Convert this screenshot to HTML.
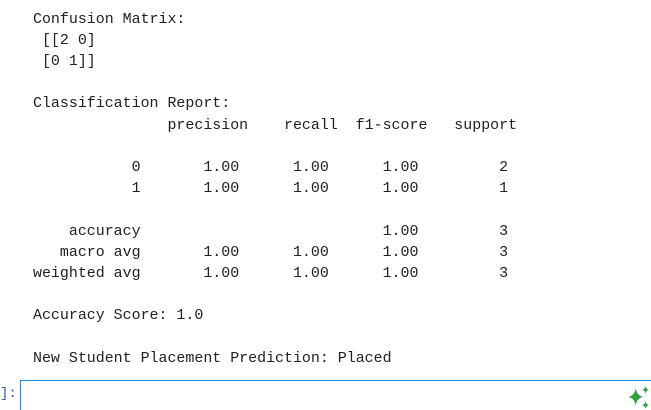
<!DOCTYPE html>
<html><head><meta charset="utf-8"><style>
html,body{margin:0;padding:0;width:651px;height:410px;background:#fff;overflow:hidden;position:relative}
pre{position:absolute;left:33px;top:9.5px;margin:0;font-family:"Liberation Mono",monospace;font-size:14.95px;line-height:21.2px;color:#212121}
#prompt{position:absolute;left:0;top:386px;font-family:"Liberation Mono",monospace;font-size:14px;color:#2f5fa8}
#cell{position:absolute;left:20px;top:380px;width:640px;height:40px;border:1px solid #1e88e5;box-sizing:border-box}
#spark{position:absolute;left:627px;top:386px}
</style></head><body>
<pre>Confusion Matrix:
 [[2 0]
 [0 1]]

Classification Report:
               precision    recall  f1-score   support

           0       1.00      1.00      1.00         2
           1       1.00      1.00      1.00         1

    accuracy                           1.00         3
   macro avg       1.00      1.00      1.00         3
weighted avg       1.00      1.00      1.00         3

Accuracy Score: 1.0

New Student Placement Prediction: Placed</pre>
<div id="prompt">]:</div>
<div id="cell"></div>
<svg id="spark" width="24" height="24" viewBox="0 0 22 22">
<path d="M8 2 Q9 9 15 10 Q9 11 8 18 Q7 11 1 10 Q7 9 8 2Z" fill="#2e9e3e"/>
<path d="M17 0 Q17.5 3 20 3.5 Q17.5 4 17 7 Q16.5 4 14 3.5 Q16.5 3 17 0Z" fill="#2e9e3e"/>
<path d="M17 14 Q17.5 17 20 17.5 Q17.5 18 17 21 Q16.5 18 14 17.5 Q16.5 17 17 14Z" fill="#2e9e3e"/>
</svg>
</body></html>
